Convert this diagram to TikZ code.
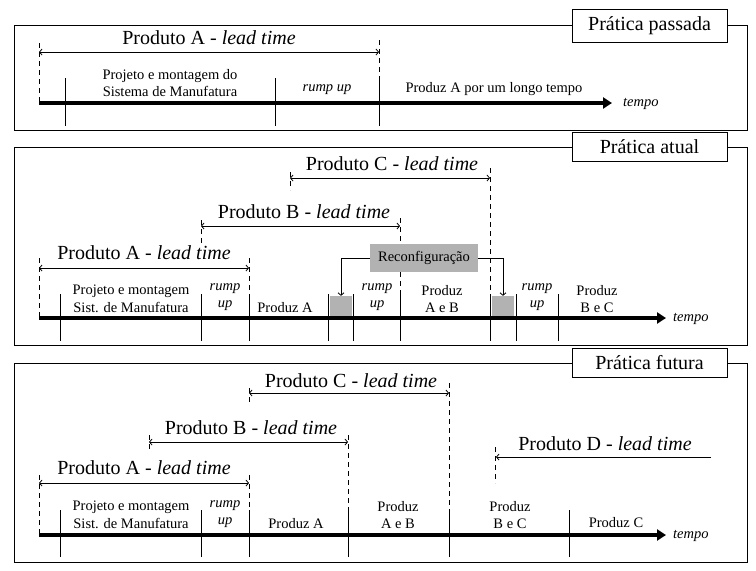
\documentclass[tikz,border=0pt]{standalone}
\usepackage{fontspec}
\setmainfont{Liberation Serif}
\usetikzlibrary{arrows.meta}

\tikzset{
  quadro/.style={line width=1pt},
  pratica/.style={draw,line width=1pt,fill=white,minimum width=155pt,
    minimum height=29pt,inner sep=0pt,font=\fontsize{20}{24}\selectfont},
  eixo/.style={line width=4pt,-{Triangle[length=9pt,width=11pt]}},
  marco/.style={line width=0.8pt},
  tracejado/.style={line width=0.8pt,dash pattern=on 5pt off 4pt},
  lead/.style={line width=0.8pt,
    {Straight Barb[length=2.5pt,width=6pt]}-{Straight Barb[length=2.5pt,width=6pt]}},
  rot/.style={inner sep=0pt,font=\fontsize{20}{24}\selectfont},
  txt/.style={inner sep=0pt,align=center,font=\fontsize{14.5}{17.5}\selectfont},
  cinza/.style={fill=black!30},
}

\begin{document}
\begin{tikzpicture}[x=1pt,y=-1pt]
\useasboundingbox (0,0) rectangle (756,571);

% pratica passada
\draw[quadro] (14,25) rectangle (747,130);
\node[pratica,minimum height=33pt] (passada) at (649.5,25.5) {Prática passada};
\draw[tracejado] (39,43)--(39,103);
\draw[tracejado] (379,40)--(379,78);
\foreach \x in {65,275,379}
  \draw[marco] (\x,78)--(\x,126);
\draw[lead] (39,52)--(379,52);
\node[rot] (ltA0) at (209,38) {Produto A - \textit{lead time}};
\draw[eixo] (39,103)--(612,103);
\node[txt,anchor=west] (tempo0) at (623,104) {\textit{tempo}};
\node[txt] (proj0) at (170,83) {Projeto e montagem do\\Sistema de Manufatura};
\node[txt] (rump0) at (327,90) {\textit{rump up}};
\node[txt] (prodA0) at (494,89) {Produz A por um longo tempo};

% pratica atual
\draw[quadro] (14,147) rectangle (747,345);
\node[pratica] (atual) at (649.5,147) {Prática atual};
\foreach \x in {60,201,249,328,353,400,490,516,558}
  \draw[marco] (\x,294)--(\x,341);
\draw[tracejado] (39,258)--(39,318);
\draw[tracejado] (249,258)--(249,294);
\draw[tracejado] (201,220)--(201,245);
\draw[tracejado] (400,218)--(400,294);
\draw[tracejado] (290,172)--(290,190);
\draw[tracejado] (490,168)--(490,294);
\draw[lead] (39,268)--(249,268);
\draw[lead] (201,226)--(400,226);
\draw[lead] (290,178)--(490,178);
\node[rot] (ltA1) at (144,253) {Produto A - \textit{lead time}};
\node[rot] (ltB1) at (304,212) {Produto B - \textit{lead time}};
\node[rot] (ltC1) at (392,164) {Produto C - \textit{lead time}};
\node[cinza,inner sep=0pt,minimum size=22pt] (cz1) at (341,307) {};
\node[cinza,inner sep=0pt,minimum size=22pt] (cz2) at (503,307) {};
\node[cinza,inner sep=0pt,minimum width=108pt,minimum height=28pt,
  font=\fontsize{14.5}{17.5}\selectfont] (recon) at (424,258) {Reconfiguração};
\draw[marco,-{Straight Barb[length=2.5pt,width=6pt]}] (recon.west) -| (cz1.north);
\draw[marco,-{Straight Barb[length=2.5pt,width=6pt]}] (recon.east) -| (cz2.north);
\draw[eixo] (39,318)--(666,318);
\node[txt,anchor=west] (tempo1) at (673,319) {\textit{tempo}};
\node[txt] (proj1) at (131,299) {Projeto e montagem\\Sist. de Manufatura};
\node[txt] (rumpA1) at (225,297) {\textit{rump}\\\textit{up}};
\node[txt] (prodA1) at (285,308) {Produz A};
\node[txt] (rumpB1) at (377,297) {\textit{rump}\\\textit{up}};
\node[txt] (prodAB1) at (442,299) {Produz\\A e B};
\node[txt] (rumpC1) at (537,297) {\textit{rump}\\\textit{up}};
\node[txt] (prodBC1) at (597,299) {Produz\\B e C};

% pratica futura
\draw[quadro] (14,363) rectangle (747,562);
\node[pratica] (futura) at (649.5,363) {Prática futura};
\foreach \x in {60,201,249,348,449,569}
  \draw[marco] (\x,510)--(\x,557);
\draw[tracejado] (39,475)--(39,535);
\draw[tracejado] (249,475)--(249,510);
\draw[tracejado] (149,435)--(149,452);
\draw[tracejado] (348,435)--(348,510);
\draw[tracejado] (249,388)--(249,405);
\draw[tracejado] (449,383)--(449,510);
\draw[tracejado] (495,447)--(495,483);
\draw[lead] (39,483)--(249,483);
\draw[lead] (149,442)--(348,442);
\draw[lead] (249,393)--(449,393);
\draw[marco,-{Straight Barb[length=2.5pt,width=6pt]}] (711,457)--(496,457);
\node[rot] (ltA2) at (144,468) {Produto A - \textit{lead time}};
\node[rot] (ltB2) at (251,428) {Produto B - \textit{lead time}};
\node[rot] (ltC2) at (351,381) {Produto C - \textit{lead time}};
\node[rot] (ltD2) at (605,444) {Produto D - \textit{lead time}};
\draw[eixo] (39,535)--(666,535);
\node[txt,anchor=west] (tempo2) at (673,536) {\textit{tempo}};
\node[txt] (proj2) at (131,515) {Projeto e montagem\\Sist. de Manufatura};
\node[txt] (rump2) at (225,514) {\textit{rump}\\\textit{up}};
\node[txt] (prodA2) at (296,524) {Produz A};
\node[txt] (prodAB2) at (398,515) {Produz\\A e B};
\node[txt] (prodBC2) at (510,515) {Produz\\B e C};
\node[txt] (prodC2) at (616,523) {Produz C};
\end{tikzpicture}
\end{document}
